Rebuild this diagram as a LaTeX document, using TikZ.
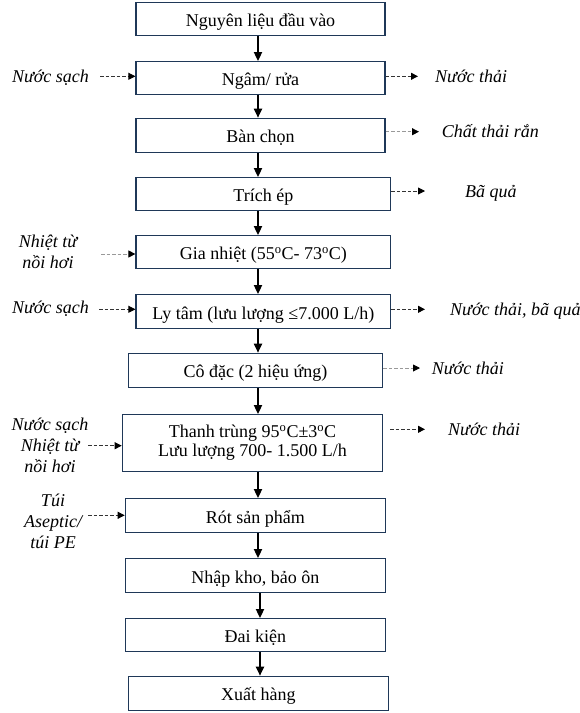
\documentclass[tikz,border=0pt]{standalone}
\usepackage{fontspec}
\setmainfont{Liberation Serif}
\usetikzlibrary{arrows.meta}
\definecolor{boxc}{RGB}{31,56,88}
\begin{document}
\begin{tikzpicture}[x=1pt,y=-1pt,
  stepbox/.style={draw=boxc, line width=1.2pt, rectangle, inner sep=0pt, align=center,
    font=\fontsize{18}{19}\selectfont},
  oneline/.style={stepbox, text height=16pt, text depth=1pt},
  flow/.style={-{Triangle[length=9pt,width=8pt]}, line width=1.8pt, black},
  side/.style={-{Triangle[length=7pt,width=7pt,color=black,fill=black]}, line width=0.9pt, dash pattern=on 3.5pt off 2pt, draw=black!80},
  sidegrey/.style={side, draw=black!40},
  lbl/.style={font=\fontsize{18}{21}\selectfont\itshape, inner sep=0pt, align=center},
]
\useasboundingbox (0,0) rectangle (580,713);
\fill[white] (0,0) rectangle (580,713);

% process boxes
\node[oneline, minimum width=249pt, minimum height=32.6pt] (b1) at (260.5,19) {Nguyên liệu đầu vào};
\node[oneline, minimum width=249pt, minimum height=32.6pt] (b2) at (260.5,78) {Ngâm/ rửa};
\node[oneline, minimum width=249pt, minimum height=34pt] (b3) at (260.5,135.3) {Bàn chọn};
\node[oneline, minimum width=254.7pt, minimum height=33pt] (b4) at (263.35,194.2) {Trích ép};
\node[oneline, minimum width=254.7pt, minimum height=32.6pt] (b5) at (263.35,252) {Gia nhiệt (55\textsuperscript{o}C- 73\textsuperscript{o}C)};
\node[oneline, minimum width=254.7pt, minimum height=33.6pt] (b6) at (263.35,311.5) {Ly tâm (lưu lượng ≤7.000 L/h)};
\node[oneline, minimum width=254.4pt, minimum height=34pt] (b7) at (255.5,370.3) {Cô đặc (2 hiệu ứng)};
\node[stepbox, minimum width=260.4pt, minimum height=56.6pt] (b8) at (252.5,443) {Thanh trùng 95\textsuperscript{o}C±3\textsuperscript{o}C\\Lưu lượng 700- 1.500 L/h};
\node[oneline, minimum width=260pt, minimum height=33.6pt] (b9) at (255.3,515.5) {Rót sản phẩm};
\node[oneline, minimum width=260pt, minimum height=33.6pt] (b10) at (255.3,575.5) {Nhập kho, bảo ôn};
\node[oneline, minimum width=260pt, minimum height=32.6pt] (b11) at (255.3,635) {Đai kiện};
\node[oneline, minimum width=260pt, minimum height=34pt] (b12) at (258.3,693.3) {Xuất hàng};

% main flow
\coordinate (ax) at (258,0);
\coordinate (ay) at (260,0);
\draw[flow] (b1.south -| ax) -- (b2.north -| ax);
\draw[flow] (b2.south -| ax) -- (b3.north -| ax);
\draw[flow] (b3.south -| ax) -- (b4.north -| ax);
\draw[flow] (b4.south -| ax) -- (b5.north -| ax);
\draw[flow] (b5.south -| ax) -- (b6.north -| ax);
\draw[flow] (b6.south -| ax) -- (b7.north -| ax);
\draw[flow] (b7.south -| ax) -- (b8.north -| ax);
\draw[flow] (b8.south -| ax) -- (b9.north -| ax);
\draw[flow] (b9.south -| ax) -- (b10.north -| ax);
\draw[flow] (b10.south -| ay) -- (b11.north -| ay);
\draw[flow] (b11.south -| ay) -- (b12.north -| ay);

% inputs (left)
\node[lbl, anchor=base] (i2) at (50.5,82) {Nước sạch};
\coordinate (l2) at (100,76.3);
\draw[side] (l2) -- (l2 -| b2.west);

\node[lbl, anchor=center] (i5) at (48,252) {Nhiệt từ\\nồi hơi};
\coordinate (l5) at (101,254);
\draw[sidegrey] (l5) -- (l5 -| b5.west);

\node[lbl, anchor=base] (i6) at (50.5,313) {Nước sạch};
\coordinate (l6) at (99,309.3);
\draw[side] (l6) -- (l6 -| b6.west);

\node[lbl, anchor=center] (i8) at (50,445) {Nước sạch\\Nhiệt từ\\nồi hơi};
\coordinate (l8) at (88,445.7);
\draw[side] (l8) -- (l8 -| b8.west);

\node[lbl, anchor=center] (i9) at (53,521) {Túi\\Aseptic/\\túi PE};
\coordinate (l9) at (88,515.3);
\draw[side] (l9) -- (l9 -| b9.west);

% outputs (right)
\coordinate (r2) at (418,76.3);
\draw[side] (r2 -| b2.east) -- (r2);
\node[lbl, anchor=base west] (o2) at (435,82) {Nước thải};

\coordinate (r3) at (419,131.7);
\draw[sidegrey] (r3 -| b3.east) -- (r3);
\node[lbl, anchor=base west] (o3) at (441.7,137.5) {Chất thải rắn};

\coordinate (r4) at (425,191);
\draw[side] (r4 -| b4.east) -- (r4);
\node[lbl, anchor=base west] (o4) at (465,197) {Bã quả};

\coordinate (r6) at (425,309.3);
\draw[side] (r6 -| b6.east) -- (r6);
\node[lbl, anchor=base west] (o6) at (450,315) {Nước thải, bã quả};

\coordinate (r7) at (420,368);
\draw[sidegrey] (r7 -| b7.east) -- (r7);
\node[lbl, anchor=base west] (o7) at (431.7,374) {Nước thải};

\coordinate (r8s) at (390,429.3);
\coordinate (r8) at (425,429.3);
\draw[side] (r8s) -- (r8);
\node[lbl, anchor=base west] (o8) at (448,435) {Nước thải};
\end{tikzpicture}
\end{document}
